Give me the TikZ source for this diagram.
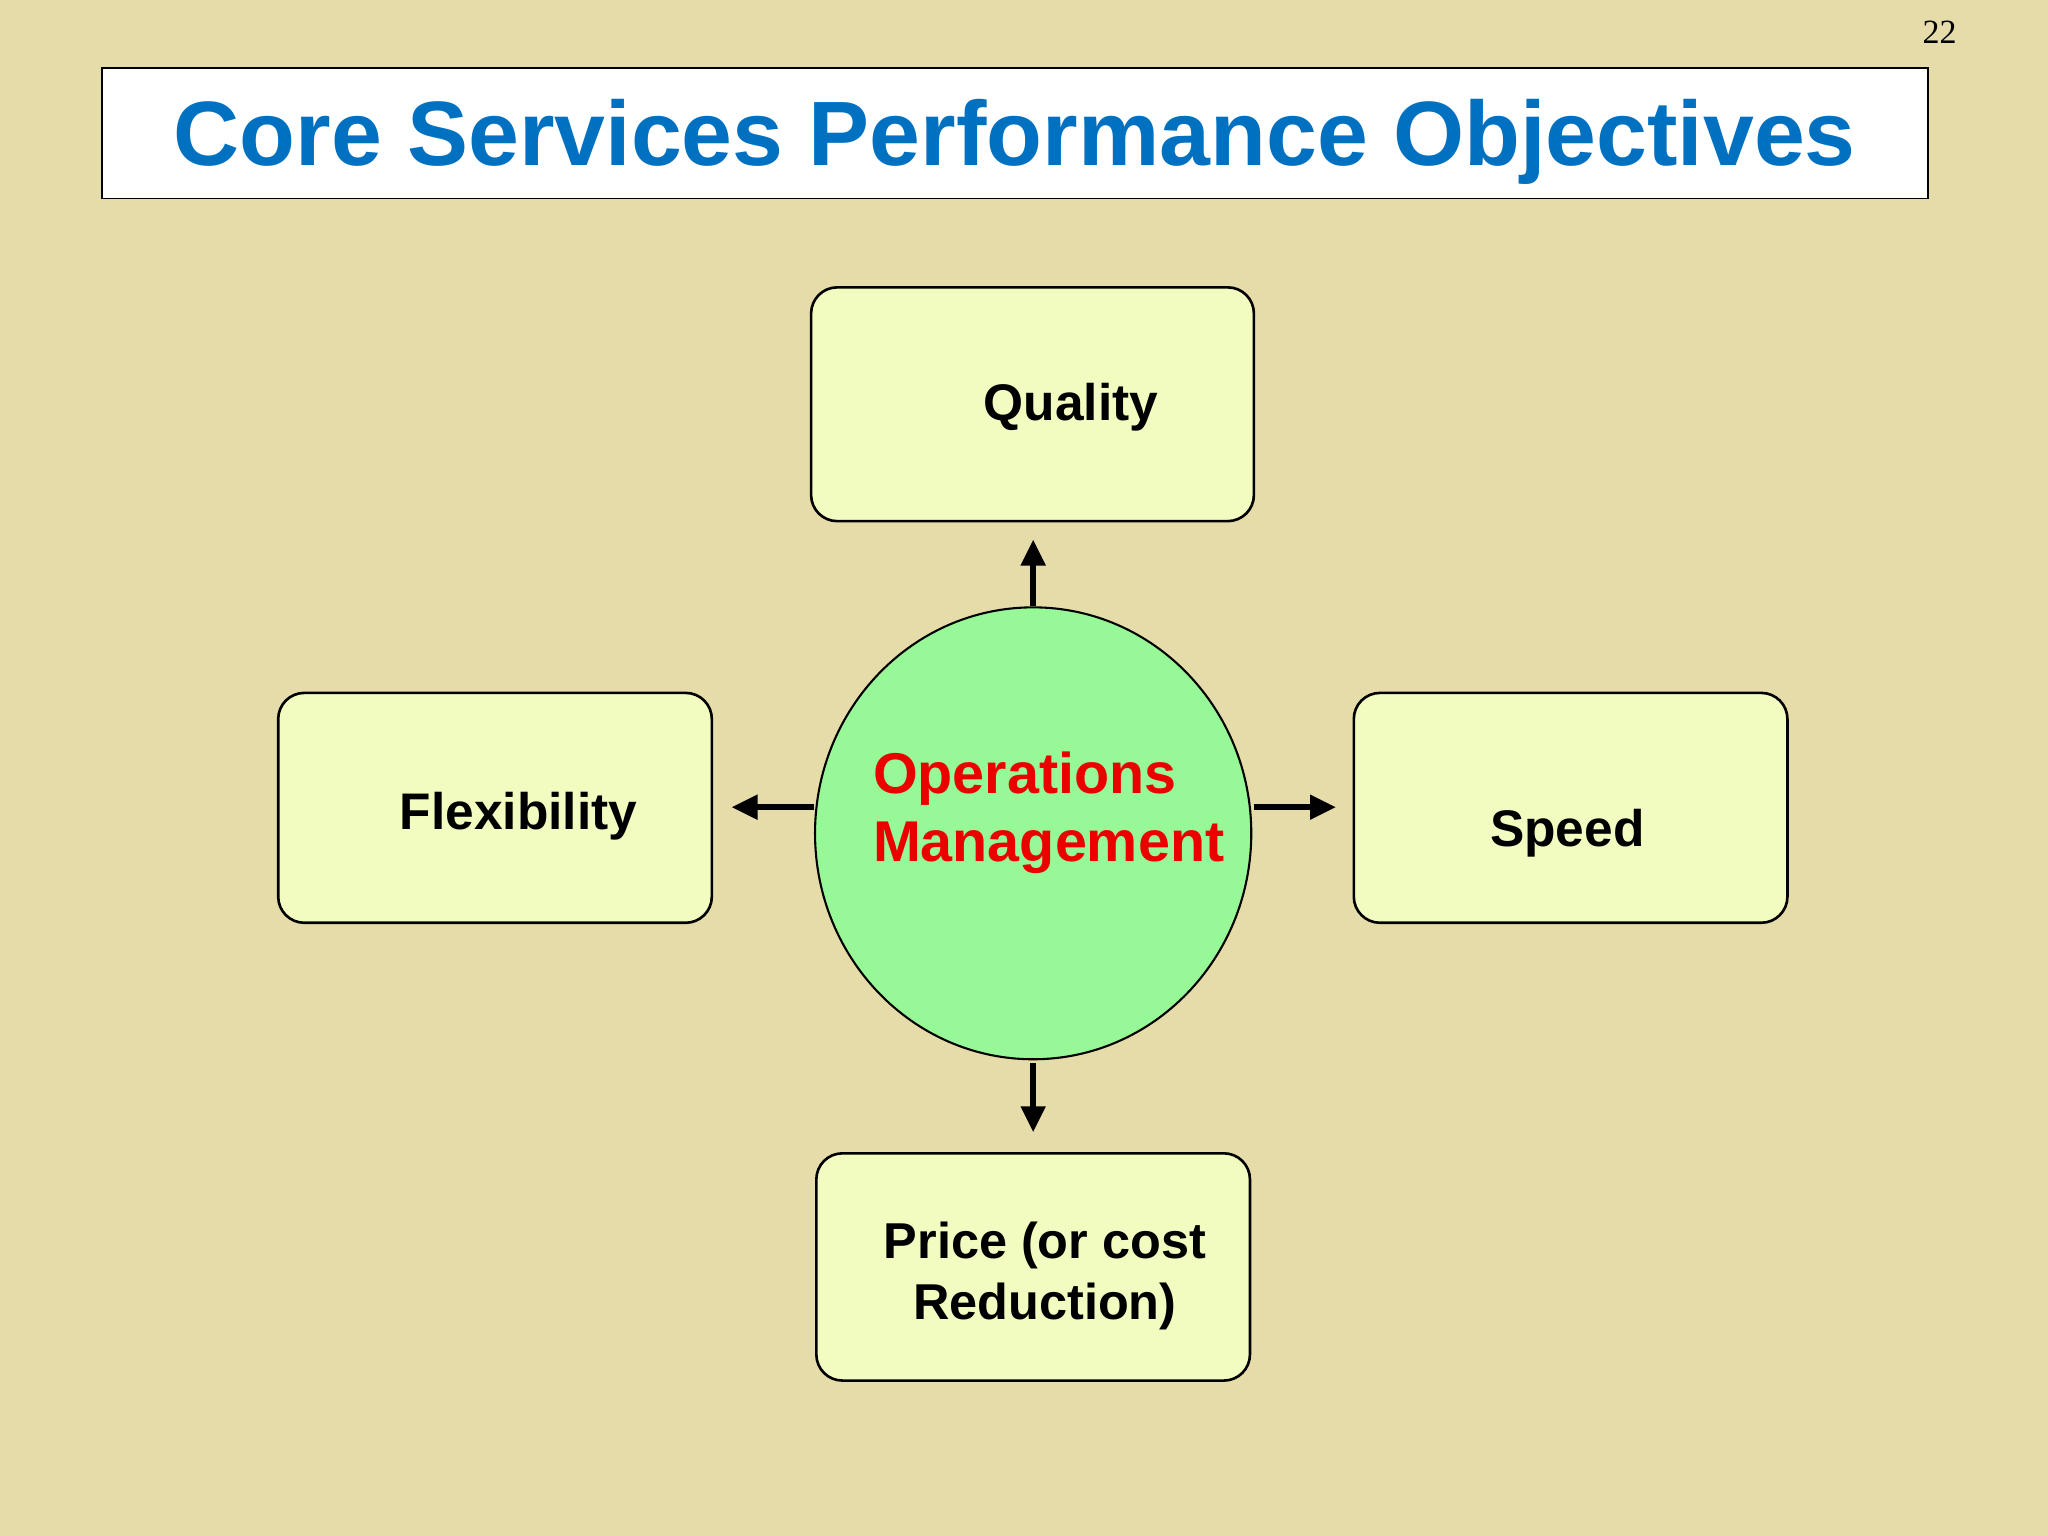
\documentclass[tikz,border=0pt]{standalone}
\usepackage{fontspec}
\setmainfont{Liberation Sans}
\newfontfamily\serifnum{Liberation Serif}
\usetikzlibrary{shapes.geometric,arrows.meta}
\definecolor{bg}{RGB}{230,220,170}
\definecolor{boxfill}{RGB}{242,251,192}
\definecolor{circfill}{RGB}{150,248,150}
\definecolor{titleblue}{RGB}{0,112,192}
\definecolor{opred}{RGB}{235,0,0}
\tikzset{
  objbox/.style={draw=black,line width=1pt,fill=boxfill,rounded corners=10pt,minimum width=166pt,minimum height=88pt},
  lbl/.style={font=\bfseries\fontsize{19.7}{24}\selectfont,align=center},
  arr/.style={line width=2.4pt,-{Triangle[length=10pt,width=9pt]}}
}
\begin{document}
\begin{tikzpicture}[x=0.5pt,y=-0.5pt]
\fill[bg] (0,0) rectangle (1568,1176);
\useasboundingbox (0,0) rectangle (1568,1176);
\node[font=\serifnum\fontsize{13}{15}\selectfont] (pg) at (1485,25) {22};
\node[draw=black,line width=0.7pt,fill=white,minimum width=699pt,minimum height=50pt] (tb) at (777,102) {};
\node[text=titleblue,font=\bfseries\fontsize{35}{40}\selectfont] (title) at (777,109) {Core Services Performance Objectives};
\node[objbox,minimum width=169.5pt,minimum height=89.5pt] (q) at (790.5,309.5) {};
\node[lbl] at (820,312) {Quality};
\node[objbox] (f) at (379,618.5) {};
\node[lbl] at (397,625) {Flexibility};
\node[objbox] (s) at (1202.5,618.5) {};
\node[lbl] at (1200,638) {Speed};
\node[objbox,minimum height=87pt] (p) at (791,970) {};
\node[lbl,font=\bfseries\fontsize{19.3}{23.5}\selectfont] at (800,977) {Price (or cost\\Reduction)};
\node[ellipse,draw=black,line width=0.8pt,fill=circfill,minimum width=167pt,minimum height=173pt,inner sep=0pt] (om) at (791,638) {};
\node[text=opred,font=\bfseries\fontsize{22}{26}\selectfont,align=left,anchor=west,inner sep=0pt] at (668,622) {Operations\\Management};
\coordinate (au) at (791,413);
\coordinate (al) at (560,618);
\coordinate (ar) at (1023,618);
\coordinate (ad) at (791,867);
\draw[arr] (om.north) -- (au);
\draw[arr] (623,618) -- (al);
\draw[arr] (960,618) -- (ar);
\draw[arr] (791,814) -- (ad);
\end{tikzpicture}
\end{document}
